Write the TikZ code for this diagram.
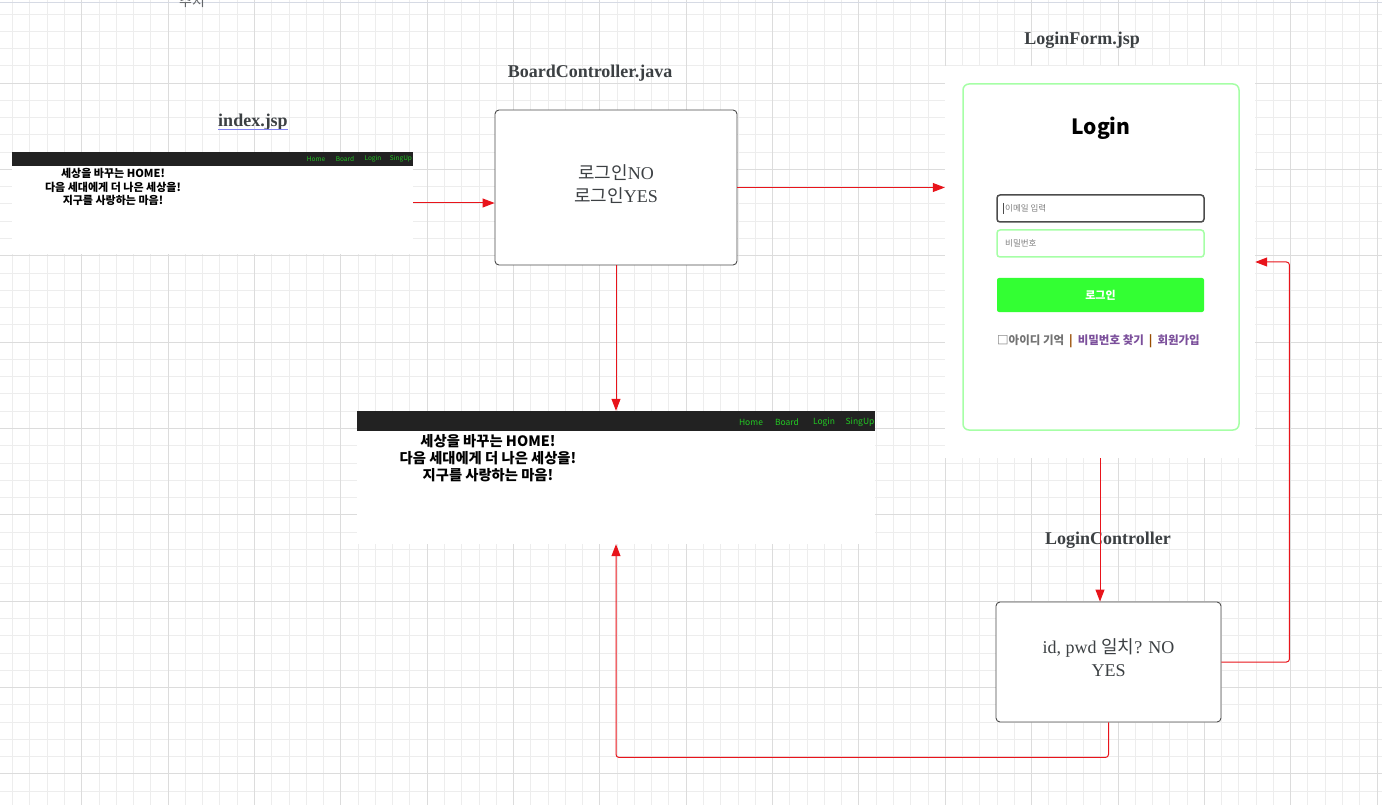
\documentclass[tikz,border=0pt]{standalone}
\usepackage{fontspec}
\setmainfont{Liberation Serif}
\newfontfamily\kr{Noto Sans CJK KR}
\usetikzlibrary{arrows.meta}
\usetikzlibrary{positioning}

\definecolor{grid_minor}{HTML}{EDEDED}
\definecolor{grid_major}{HTML}{DCDCDC}
\definecolor{top_rule}{HTML}{D6DAE4}
\definecolor{ink}{HTML}{3C4043}
\definecolor{arrow_red}{HTML}{E8141B}
\definecolor{nav_green}{HTML}{22C922}
\definecolor{bar_black}{HTML}{222222}
\definecolor{form_green}{HTML}{A6FFA6}
\definecolor{btn_green}{HTML}{33FF33}
\definecolor{link_purple}{HTML}{7B4F9B}
\definecolor{underline_blue}{HTML}{8080F0}

\tikzstyle{title_node} = [
    text=ink,
    font=\fontsize{18}{20}\selectfont\bfseries,
    inner sep=0pt
]
\tikzstyle{box_node} = [
    rectangle,
    rounded corners=4pt,
    draw=gray!60!black,
    line width=0.9pt,
    fill=white
]
\tikzstyle{box_text} = [
    text=ink,
    align=center,
    inner sep=0pt,
    font=\fontsize{18}{23}\selectfont
]
\tikzstyle{screen_node} = [
    rectangle,
    fill=white,
    inner sep=0pt
]
\tikzstyle{bar_node} = [
    fill=bar_black,
    inner sep=0pt
]
\tikzstyle{nav_node} = [
    text=nav_green,
    inner sep=0pt
]
\tikzstyle{field_node} = [
    rectangle,
    rounded corners=3pt,
    line width=1.5pt,
    minimum width=207pt,
    minimum height=27pt,
    inner sep=0pt
]
\tikzstyle{red_arrow} = [
    draw=arrow_red,
    line width=1pt,
    rounded corners=3pt,
    -{Triangle[length=12pt, width=9pt]}
]

\begin{document}
\begin{tikzpicture}[x=1pt, y=-1pt]
\useasboundingbox (0,0) rectangle (1382,805);
\fill[white] (0,0) rectangle (1382,805);
% grid
\foreach \i in {0,...,79}
    \draw[grid_minor, line width=0.8pt] (12.62+17.27*\i,0) -- ++(0,805);
\foreach \i in {0,...,46}
    \draw[grid_minor, line width=0.8pt] (0,13.92+17.27*\i) -- ++(1382,0);
\foreach \i in {0,...,15}
    \draw[grid_major, line width=0.8pt] (81.7+86.35*\i,0) -- ++(0,805);
\foreach \i in {0,...,8}
    \draw[grid_major, line width=0.8pt] (0,83+86.35*\i) -- ++(1382,0);
\draw[top_rule] (0,2.5) -- (1382,2.5);
\node (cut_text) [text=ink!80, font=\kr\fontsize{14}{14}\selectfont] at (192,1) {추지};

% index.jsp
\node (index_title) [title_node] at (253,122) {index.jsp};
\draw[underline_blue, line width=1.5pt] ([yshift=-3pt]index_title.base west) -- ([yshift=-3pt]index_title.base east);
\node (index) [screen_node, minimum width=401pt, minimum height=102pt] at (212.5,203) {};
\node (index_bar) [bar_node, minimum width=401pt, minimum height=14pt, anchor=north] at (index.north) {};
\foreach \x/\t in {316/Home, 345/Board, 373/Login, 401/SingUp}
    \node (index_\t) [nav_node, font=\kr\fontsize{6.5}{7}\selectfont] at (\x,159) {\t};
\node (index_text) [font=\kr\bfseries\fontsize{11}{13.5}\selectfont, align=center, inner sep=0pt] at (113,187)
    {세상을 바꾸는 HOME!\\다음 세대에게 더 나은 세상을!\\지구를 사랑하는 마음!};

% BoardController.java
\node (board_title) [title_node] at (590,73) {BoardController.java};
\node (board) [box_node, minimum width=242pt, minimum height=155pt] at (616,187.5) {};
\node (board_text) [box_text] at (616,184) {{\kr 로그인}NO\\{\kr 로그인}YES};

% main page
\node (main) [screen_node, minimum width=518pt, minimum height=133pt] at (616,477.5) {};
\node (main_bar) [bar_node, minimum width=518pt, minimum height=20pt, anchor=north] at (main.north) {};
\foreach \x/\t in {751/Home, 787/Board, 824/Login, 860/SingUp}
    \node (main_\t) [nav_node, font=\kr\fontsize{8.5}{9}\selectfont] at (\x,422) {\t};
\node (main_text) [font=\kr\bfseries\fontsize{14.3}{17}\selectfont, align=center, inner sep=0pt] at (488,458.5)
    {세상을 바꾸는 HOME!\\다음 세대에게 더 나은 세상을!\\지구를 사랑하는 마음!};

% LoginForm.jsp
\node (login_title) [title_node] at (1082,40) {LoginForm.jsp};
\node (login_form) [screen_node, minimum width=310pt, minimum height=392pt] at (1100,262) {};
\node (login_card) [draw=form_green, line width=1.5pt, rounded corners=6pt, minimum width=276pt, minimum height=346pt] at (1101,257) {};
\node (login_head) [font=\kr\bfseries\fontsize{21}{22}\selectfont, text=black] at (1101,128) {Login};
\node (email) [field_node, draw=gray!60!black] at (1100.5,208.5) {};
\node (email_hint) [anchor=west, inner sep=0pt, text=gray, font=\kr\fontsize{8.5}{9}\selectfont] at (1005,208.5) {이메일 입력};
\draw[gray!60!black, line width=0.6pt] (1003.5,203) -- (1003.5,214);
\node (pwd) [field_node, draw=form_green] at (1100.5,243.5) {};
\node (pwd_hint) [anchor=west, inner sep=0pt, text=gray, font=\kr\fontsize{8.5}{9}\selectfont] at (1005,243) {비밀번호};
\node (login_btn) [rectangle, rounded corners=2pt, fill=btn_green, text=white, minimum width=207pt, minimum height=34pt,
    font=\kr\bfseries\fontsize{11}{12}\selectfont] at (1100.5,295) {로그인};
\node (login_links) [anchor=west, inner sep=0pt, font=\kr\bfseries\fontsize{11.5}{12}\selectfont] at (997,341)
    {{\color{gray!90!black}□아이디 기억}\hspace{5pt}{\color{orange!60!black}|}\hspace{5pt}{\color{link_purple}비밀번호 찾기}\hspace{5pt}{\color{orange!60!black}|}\hspace{5pt}{\color{link_purple}회원가입}};

% LoginController
\node (ctrl_title) [title_node] at (1108,540) {LoginController};
\node (ctrl) [box_node, minimum width=225pt, minimum height=120pt] at (1108.5,662) {};
\node (ctrl_text) [box_text] at (1108.5,658) {id, pwd {\kr 일치}? NO\\YES};

% flow
\draw[red_arrow] (index.east) -- (index.east -| board.west);
\draw[red_arrow] (board.east) -- (board.east -| login_form.west);
\draw[red_arrow] (board.south) -- (main.north);
\draw[red_arrow] (login_form.south) -- (login_form.south |- ctrl.north);
\draw[red_arrow] (ctrl.east) -- ++(68,0) |- (login_form.east);
\draw[red_arrow] (ctrl.south) -- ++(0,35) -| (main.south);
\end{tikzpicture}
\end{document}
